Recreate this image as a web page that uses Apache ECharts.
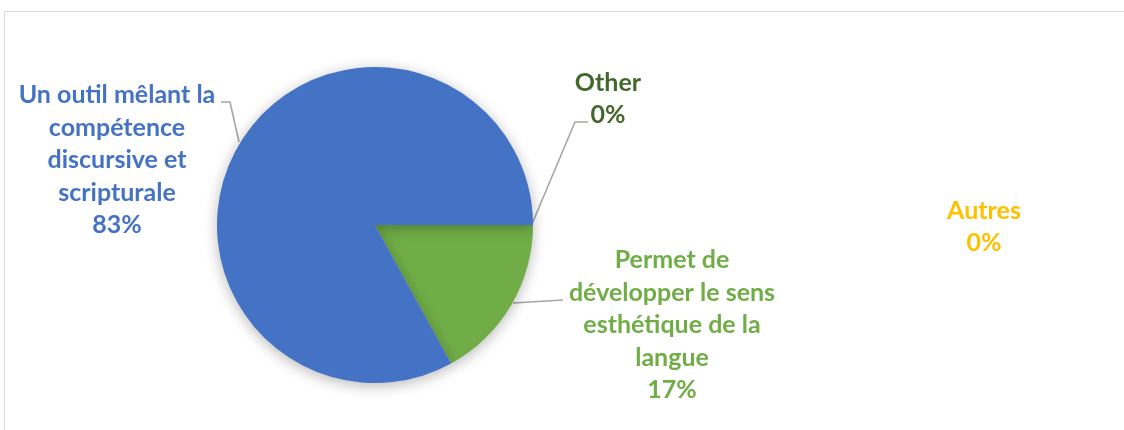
<!DOCTYPE html>
<html>
<head>
<meta charset="utf-8">
<script src="https://cdn.jsdelivr.net/npm/echarts@6/dist/echarts.min.js"></script>
<style>
html,body{margin:0;padding:0;background:#fff;}
#frame{position:absolute;left:4px;top:11px;width:1140px;height:440px;border:1px solid #d9d9d9;box-sizing:border-box;}
#main{position:absolute;left:0;top:0;width:1124px;height:430px;}
</style>
</head>
<body>
<div id="frame"></div>
<div id="main"></div>
<script>
// Data
const categories = [
  "Permet de\ndévelopper le sens\nesthétique de la\nlangue",
  "Un outil mêlant la\ncompétence\ndiscursive et\nscripturale",
  "Other",
  "Autres"
];
const values = [17, 83, 0, 0];
const colors = ["#70AD47", "#4472C4", "#43682B", "#FFC000"];
const labelColors = ["#70AD47", "#4472C4", "#43682B", "#FFC000"];

// label placement (layout only)
const labelPos = [
  {x: 672, y: 325, line: [[513, 303], [538, 301.5], [563, 300]]},
  {x: 117, y: 160, line: [[239, 142], [230, 102], [221, 102]]},
  {x: 608, y: 99, line: [[532, 224], [575, 122], [588, 122]]},
  {x: 984, y: 227, line: null}
];

const chart = echarts.init(document.getElementById('main'), null, {renderer: 'canvas'});
chart.setOption({
  animation: false,
  series: [{
    type: 'pie',
    center: [375, 225],
    radius: 158,
    startAngle: 0,
    clockwise: true,
    minAngle: 0,
    avoidLabelOverlap: false,
    percentPrecision: 0,
    itemStyle: {
      shadowBlur: 14,
      shadowColor: 'rgba(0,0,0,0.28)',
      shadowOffsetY: 3,
      borderWidth: 0
    },
    label: {
      show: true,
      formatter: '{b}\n{d}%',
      fontFamily: 'Lato',
      fontWeight: 'bold',
      fontSize: 25,
      lineHeight: 32.5,
      align: 'center'
    },
    labelLine: {
      show: true,
      lineStyle: {color: '#a6a6a6', width: 1.6}
    },
    labelLayout: function (params) {
      const p = labelPos[params.dataIndex];
      const r = {x: p.x, y: p.y, align: 'center', verticalAlign: 'middle'};
      if (p.line) r.labelLinePoints = p.line;
      return r;
    },
    data: categories.map((c, i) => ({
      name: c,
      value: values[i],
      itemStyle: {color: colors[i]},
      label: {color: labelColors[i]},
      labelLine: {show: labelPos[i].line !== null}
    }))
  }]
});
</script>
</body>
</html>
